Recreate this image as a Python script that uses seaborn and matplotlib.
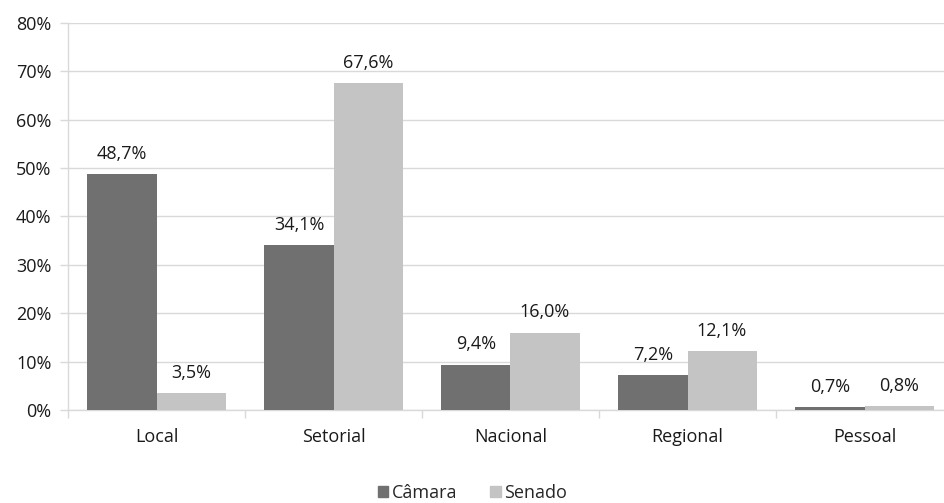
import matplotlib
matplotlib.use("Agg")
import matplotlib.pyplot as plt
import seaborn as sns
import pandas as pd
from matplotlib.ticker import FixedLocator

categories = ["Local", "Setorial", "Nacional", "Regional", "Pessoal"]
series_names = ["Câmara", "Senado"]
camara = [48.7, 34.1, 9.4, 7.2, 0.7]
senado = [3.5, 67.6, 16.0, 12.1, 0.8]
y_ticks = [0, 10, 20, 30, 40, 50, 60, 70, 80]

df = pd.DataFrame({
    "categoria": categories * 2,
    "casa": [series_names[0]] * len(categories) + [series_names[1]] * len(categories),
    "valor": camara + senado,
})

sns.set_theme(style="white")
plt.rcParams["font.family"] = ["Open Sans", "DejaVu Sans"]

FS = 13
TXT = "#1a1a1a"

fig = plt.figure(figsize=(9.45, 5.03), dpi=100)
ax = fig.add_axes([68 / 945, 93 / 503, 885 / 945, 387 / 503])

palette = {"Câmara": "#707070", "Senado": "#c4c4c4"}
sns.barplot(data=df, x="categoria", y="valor", hue="casa", order=categories,
            hue_order=series_names, palette=palette, width=0.78,
            saturation=1, linewidth=0, ax=ax, legend=False, zorder=3)

for container, vals in zip(ax.containers, [camara, senado]):
    ax.bar_label(container, labels=[f"{v:.1f}%".replace(".", ",") for v in vals],
                 padding=8, fontsize=FS, color=TXT)

ax.set_xlim(-0.5, len(categories) - 0.5)
ax.set_ylim(0, 80)
ax.set_yticks(y_ticks)
ax.set_yticklabels([f"{t}%" for t in y_ticks], fontsize=FS, color=TXT)
ax.set_xticklabels(categories, fontsize=FS, color=TXT)
ax.xaxis.set_minor_locator(FixedLocator([i - 0.5 for i in range(len(categories) + 1)]))
ax.tick_params(axis="x", which="major", length=0, pad=13)
ax.tick_params(axis="x", which="minor", length=6, color="#d9d9d9", width=1, bottom=True)
ax.tick_params(axis="y", length=6, color="#d9d9d9", width=1, left=True, pad=6)

ax.yaxis.grid(True, color="#d9d9d9", linewidth=1, zorder=0)
ax.set_axisbelow(True)
for side in ["top", "right"]:
    ax.spines[side].set_visible(False)
for side in ["left", "bottom"]:
    ax.spines[side].set_color("#d9d9d9")
    ax.spines[side].set_linewidth(1)
ax.set_xlabel("")
ax.set_ylabel("")

handles = [plt.Rectangle((0, 0), 1, 1, color=palette[n]) for n in series_names]
fig.legend(handles, series_names, loc="center", bbox_to_anchor=(0.5, 10 / 503),
           ncol=2, frameon=False, fontsize=FS, handlelength=0.6, handleheight=0.6,
           handletextpad=0.2, columnspacing=1.8)

fig.savefig("out.png", dpi=100)
